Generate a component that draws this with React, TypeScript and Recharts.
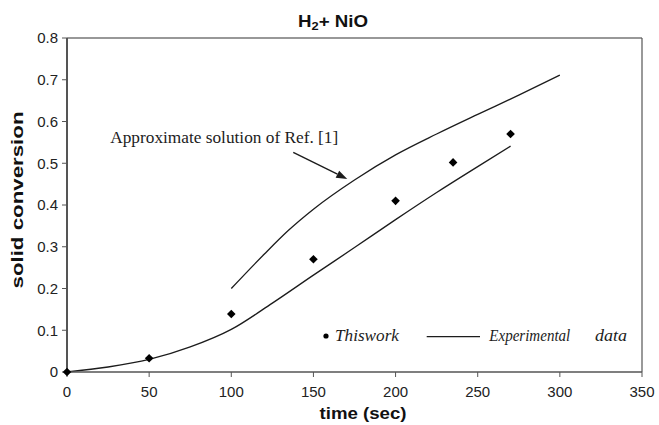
import {
  ComposedChart,
  Customized,
  Legend,
  Line,
  ReferenceLine,
  Scatter,
  XAxis,
  YAxis,
} from "recharts";

// time axis (sec) and conversion axis
const timeTicks = [0, 50, 100, 150, 200, 250, 300, 350];
const conversionTicks = [0, 0.1, 0.2, 0.3, 0.4, 0.5, 0.6, 0.7, 0.8];

// "This work" model points
const workTime = [0, 50, 100, 150, 200, 235, 270];
const workConversion = [0, 0.033, 0.139, 0.27, 0.41, 0.502, 0.57];

// experimental curve
const expTime = [0, 25, 50, 75, 100, 125, 150, 175, 200, 225, 250, 270];
const expConversion = [0, 0.012, 0.03, 0.06, 0.102, 0.165, 0.232, 0.298, 0.365, 0.43, 0.492, 0.541];

// approximate solution of Ref. [1]
const refTime = [100, 120, 135, 150, 175, 200, 225, 250, 275, 300];
const refConversion = [0.2, 0.282, 0.34, 0.39, 0.46, 0.52, 0.57, 0.617, 0.663, 0.711];

// annotation arrow, in data units
const arrowFrom = { t: 137.7, y: 0.526 };
const arrowTo = { t: 170.6, y: 0.462 };

const rows = (xs: number[], ys: number[]) => xs.map((t, i) => ({ t, y: ys[i] }));

const workData = rows(workTime, workConversion);
const expData = rows(expTime, expConversion);
const refData = rows(refTime, refConversion);

const SANS = "'Liberation Sans', Arial, sans-serif";
const SERIF = "'Liberation Serif', 'Times New Roman', serif";
const INK = "#1c1c1c";

const serifItalic = {
  fontFamily: SERIF,
  fontStyle: "italic",
  fontSize: 17,
  fill: INK,
} as const;

function Diamond({ cx, cy }: { cx?: number; cy?: number }) {
  if (cx == null || cy == null) return null;
  const r = 4.3;
  return (
    <polygon
      points={`${cx},${cy - r} ${cx + r},${cy} ${cx},${cy + r} ${cx - r},${cy}`}
      fill="#000"
    />
  );
}

function Annotation(props: any) {
  const { x1, y1, x2, y2 } = props;
  if ([x1, y1, x2, y2].some((v) => v == null || Number.isNaN(v))) return null;
  const dx = x2 - x1;
  const dy = y2 - y1;
  const len = Math.hypot(dx, dy);
  const ux = dx / len;
  const uy = dy / len;
  const head = 11;
  const half = 4;
  const bx = x2 - ux * head;
  const by = y2 - uy * head;
  return (
    <g>
      <line x1={x1} y1={y1} x2={bx} y2={by} stroke={INK} strokeWidth={1.4} />
      <polygon
        points={`${x2},${y2} ${bx - uy * half},${by + ux * half} ${bx + uy * half},${by - ux * half}`}
        fill={INK}
      />
      <text
        x={x1 - 183}
        y={y1 - 9}
        style={{ fontFamily: SERIF, fontSize: 16, fill: INK }}
        textLength={228}
        lengthAdjust="spacingAndGlyphs"
      >
        Approximate solution of Ref. [1]
      </text>
    </g>
  );
}

function Titles() {
  const bold = { fontFamily: SANS, fontWeight: "bold", fill: "#111" } as const;
  return (
    <g>
      <text x={298} y={26.5} style={{ ...bold, fontSize: 16 }} textLength={70} lengthAdjust="spacingAndGlyphs">
        H<tspan style={{ fontSize: 11 }} dy={3}>2</tspan>
        <tspan dy={-3}>+ NiO</tspan>
      </text>
      <text
        x={363}
        y={419}
        style={{ ...bold, fontSize: 16 }}
        textAnchor="middle"
        textLength={87}
        lengthAdjust="spacingAndGlyphs"
      >
        time (sec)
      </text>
      <text
        transform="translate(23,200) rotate(-90)"
        style={{ ...bold, fontSize: 17 }}
        textAnchor="middle"
        textLength={177}
        lengthAdjust="spacingAndGlyphs"
      >
        solid conversion
      </text>
    </g>
  );
}

function KeyBox() {
  return (
    <svg width={320} height={26} style={{ display: "block" }}>
      <circle cx={11} cy={14} r={2.6} fill="#000" />
      <text x={20} y={18.7} style={serifItalic} textLength={64} lengthAdjust="spacingAndGlyphs">
        Thiswork
      </text>
      <line x1={111.7} y1={14.7} x2={165} y2={14.7} stroke={INK} strokeWidth={1.3} />
      <text x={174.3} y={18.7} style={serifItalic} textLength={81} lengthAdjust="spacingAndGlyphs">
        Experimental
      </text>
      <text x={280} y={18.7} style={serifItalic} textLength={32} lengthAdjust="spacingAndGlyphs">
        data
      </text>
    </svg>
  );
}

export default function App() {
  return (
    <div style={{ position: "absolute", left: 0, top: 0, background: "#fff" }}>
      <ComposedChart
        width={659}
        height={425}
        margin={{ top: 38, right: 17, left: 0, bottom: 0 }}
      >
        <XAxis
          dataKey="t"
          type="number"
          domain={[0, 350]}
          ticks={timeTicks}
          interval={0}
          height={53}
          tickSize={5}
          tickMargin={9}
          tick={{ fontSize: 15, fill: "#222", fontFamily: SANS }}
          axisLine={{ stroke: "#555", strokeWidth: 1.6 }}
          tickLine={{ stroke: "#555" }}
        />
        <YAxis
          type="number"
          domain={[0, 0.8]}
          ticks={conversionTicks}
          interval={0}
          width={67}
          tickSize={5}
          tickMargin={4}
          tickFormatter={(v: number) => (v === 0 ? "0" : v.toFixed(1))}
          tick={{ fontSize: 15, fill: "#222", fontFamily: SANS }}
          axisLine={{ stroke: "#555", strokeWidth: 2 }}
          tickLine={{ stroke: "#555" }}
        />
        <ReferenceLine y={0.8} stroke="#333" strokeWidth={1.2} />
        <ReferenceLine x={350} stroke="#555" strokeWidth={1.2} />
        <ReferenceLine
          segment={[
            { x: arrowFrom.t, y: arrowFrom.y },
            { x: arrowTo.t, y: arrowTo.y },
          ]}
          shape={Annotation}
        />
        <Line
          data={expData}
          dataKey="y"
          type="monotone"
          stroke={INK}
          strokeWidth={1.3}
          dot={false}
          activeDot={false}
          isAnimationActive={false}
        />
        <Line
          data={refData}
          dataKey="y"
          type="monotone"
          stroke={INK}
          strokeWidth={1.3}
          dot={false}
          activeDot={false}
          isAnimationActive={false}
        />
        <Scatter data={workData} dataKey="y" shape={<Diamond />} isAnimationActive={false} />
        <Legend
          layout="horizontal"
          verticalAlign="middle"
          align="center"
          content={() => <KeyBox />}
          wrapperStyle={{ left: 315, top: 322, width: 320, height: 26 }}
        />
        <Customized component={<Titles />} />
      </ComposedChart>
    </div>
  );
}
